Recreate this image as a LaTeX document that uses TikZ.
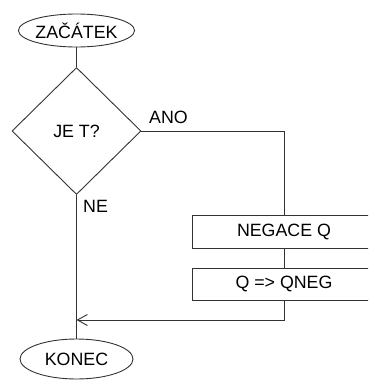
\documentclass[tikz,border=0pt]{standalone}
\usepackage{fontspec}
\setmainfont{Liberation Sans}
\usetikzlibrary{shapes.geometric,arrows.meta}

\tikzset{
  terminal/.style={ellipse, draw=black!80, line width=0.9pt, inner sep=0pt},
  decision/.style={diamond, draw=black!80, line width=0.9pt, inner sep=0pt,
    minimum width=129pt, minimum height=127pt},
  process/.style={rectangle, draw=black!80, line width=0.9pt,
    minimum width=184pt, minimum height=33pt},
  flow/.style={draw=black!80, line width=0.9pt},
  branch/.style={inner sep=0pt, anchor=west}
}

\begin{document}
\begin{tikzpicture}[x=1pt, y=-1pt, font=\fontsize{17.8}{20}\selectfont]
  \clip (0,0) rectangle (368,381);
  \useasboundingbox (0,0) rectangle (368,381);

  % uzly
  \node[terminal, minimum width=114pt, minimum height=33pt] (start) at (76.5,30.5) {ZAČÁTEK};
  \node[decision] (test) at (76.5,131) {JE T?};
  \node[process] (neg) at (284,231.5) {NEGACE Q};
  \node[process, minimum height=32pt] (swap) at (284,284) {Q => QNEG};
  \node[terminal, minimum width=113pt, minimum height=40pt] (end) at (76.5,359) {KONEC};

  \coordinate (turn) at (284,131);
  \coordinate (join) at (76.5,320);

  % popisky vetveni
  \node[branch] (yes) at (149,117) {ANO};
  \node[branch] (no) at (83,206) {NE};

  % spoje
  \draw[flow] (start) -- (test);
  \draw[flow] (test.east) -- (turn) -- (neg.north);
  \draw[flow] (neg) -- (swap);
  \draw[flow, -{Straight Barb[length=10pt,width=11pt]}] (swap.south) |- (join);
  \draw[flow] (test.south) -- (end.north);
\end{tikzpicture}
\end{document}
